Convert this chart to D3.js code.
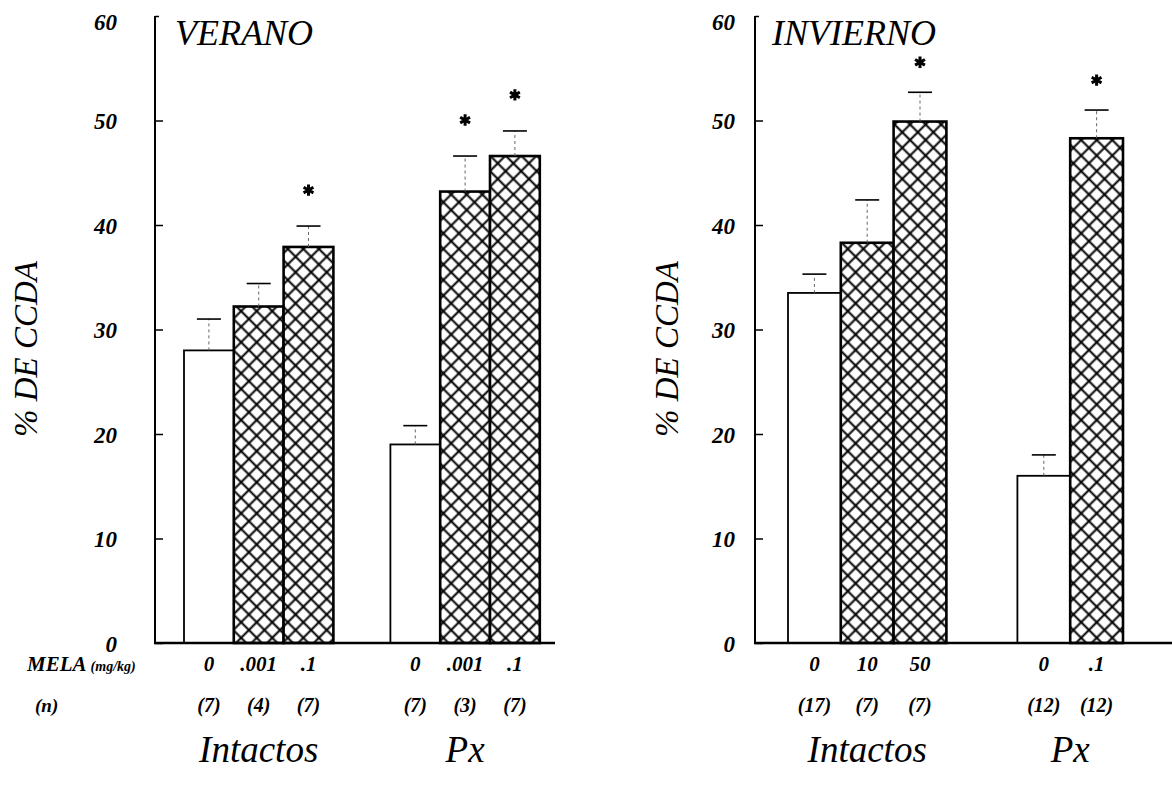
<!DOCTYPE html>
<html>
<head>
<meta charset="utf-8">
<script src="https://cdn.jsdelivr.net/npm/d3@7"></script>
<style>
  body { margin: 0; background: #fff; }
  svg text { font-family: "Liberation Serif", "Times New Roman", Tinos, "Noto Serif", "DejaVu Serif", serif; font-style: italic; fill: #000; }
</style>
</head>
<body>
<script>
"use strict";

// y axis ticks, shared by both panels
var yTicks = [0, 10, 20, 30, 40, 50, 60];

// VERANO (summer)
var veranoGroups = ["Intactos", "Px"];
var veranoDoses = [["0", ".001", ".1"], ["0", ".001", ".1"]];
var veranoN = [["(7)", "(4)", "(7)"], ["(7)", "(3)", "(7)"]];
var veranoMeans = [[28.0, 32.2, 37.9], [19.0, 43.2, 46.6]];
var veranoSem = [[3.0, 2.2, 2.0], [1.8, 3.4, 2.4]];
var veranoSig = [[false, false, true], [false, true, true]];

// INVIERNO (winter)
var inviernoGroups = ["Intactos", "Px"];
var inviernoDoses = [["0", "10", "50"], ["0", ".1"]];
var inviernoN = [["(17)", "(7)", "(7)"], ["(12)", "(12)"]];
var inviernoMeans = [[33.5, 38.3, 49.9], [16.0, 48.3]];
var inviernoSem = [[1.8, 4.1, 2.8], [2.0, 2.7]];
var inviernoSig = [[false, false, true], [false, true]];

var width = 1172, height = 793;

var svg = d3.select("body").append("svg")
    .attr("width", width)
    .attr("height", height);

// cross hatch fill
var hs = 11;
var defs = svg.append("defs");
var hatch = defs.append("pattern")
    .attr("id", "hatch")
    .attr("patternUnits", "userSpaceOnUse")
    .attr("width", hs)
    .attr("height", hs)
    .attr("patternTransform", "rotate(45)");
hatch.append("rect").attr("width", hs).attr("height", hs).attr("fill", "#fff");
hatch.append("path")
    .attr("d", "M0," + hs / 2 + "H" + hs + "M" + hs / 2 + ",0V" + hs)
    .attr("stroke", "#000")
    .attr("stroke-width", 2);

var y = d3.scaleLinear().domain([0, 60]).range([643, 16]);
var star = d3.symbol(d3.symbolAsterisk, 90);

function drawPanel(p) {
  var g = svg.append("g");

  // work out where each group of bars starts
  var groupX = [], start = p.firstBar;
  p.doses.forEach(function(d) {
    groupX.push(start);
    start += d.length * p.barW + p.gap;
  });

  var bars = [];
  p.doses.forEach(function(doses, gi) {
    var xb = d3.scaleBand()
        .domain(d3.range(doses.length))
        .range([groupX[gi], groupX[gi] + doses.length * p.barW]);
    doses.forEach(function(dose, di) {
      bars.push({
        x: xb(di), w: xb.bandwidth(), dose: dose, n: p.n[gi][di],
        value: p.means[gi][di], sem: p.sem[gi][di], sig: p.sig[gi][di],
        hatched: di > 0
      });
    });
  });

  // Y axis
  var axis = g.append("g")
      .attr("transform", "translate(" + p.axisX + ",0)")
      .call(d3.axisLeft(y).tickValues(yTicks).tickSize(-8).tickPadding(p.labelPad));
  axis.attr("font-family", null);
  axis.select(".domain").remove();
  axis.selectAll(".tick line").attr("stroke", "#000").attr("stroke-width", 1.5)
      .attr("x2", function(d) { return d === 60 ? 4 : 8; });
  axis.selectAll(".tick text")
      .attr("font-weight", "bold")
      .attr("font-size", 23)
      .attr("dy", function(d) { return d === 60 ? "0.6em" : "0.35em"; });
  g.append("line")
      .attr("x1", p.axisX).attr("x2", p.axisX)
      .attr("y1", y(0)).attr("y2", y(60))
      .attr("stroke", "#000").attr("stroke-width", 2);

  // bars
  g.selectAll(".bar").data(bars).enter().append("rect")
      .attr("class", "bar")
      .attr("x", function(d) { return d.x; })
      .attr("y", function(d) { return y(d.value); })
      .attr("width", function(d) { return d.w; })
      .attr("height", function(d) { return y(0) - y(d.value); })
      .attr("fill", function(d) { return d.hatched ? "url(#hatch)" : "#fff"; })
      .attr("stroke", "#000")
      .attr("stroke-width", function(d) { return d.hatched ? 2.6 : 1.8; });

  // error bars: dotted stem + solid cap
  g.selectAll(".stem").data(bars).enter().append("line")
      .attr("x1", function(d) { return d.x + d.w / 2; })
      .attr("x2", function(d) { return d.x + d.w / 2; })
      .attr("y1", function(d) { return y(d.value); })
      .attr("y2", function(d) { return y(d.value + d.sem); })
      .attr("stroke", "#666").attr("stroke-width", 1)
      .attr("stroke-dasharray", "3,3");
  g.selectAll(".cap").data(bars).enter().append("line")
      .attr("x1", function(d) { return d.x + d.w / 2 - 12; })
      .attr("x2", function(d) { return d.x + d.w / 2 + 12; })
      .attr("y1", function(d) { return y(d.value + d.sem); })
      .attr("y2", function(d) { return y(d.value + d.sem); })
      .attr("stroke", "#000").attr("stroke-width", 1.6);

  // significance stars
  g.selectAll(".star").data(bars.filter(function(d) { return d.sig; })).enter().append("path")
      .attr("transform", function(d) {
        return "translate(" + (d.x + d.w / 2) + "," + (y(d.value + d.sem) - p.starGap) + ")";
      })
      .attr("d", star)
      .attr("fill", "none")
      .attr("stroke", "#000")
      .attr("stroke-width", 3);

  // baseline
  g.append("line")
      .attr("x1", p.axisX - 1).attr("x2", p.baseEnd)
      .attr("y1", y(0)).attr("y2", y(0))
      .attr("stroke", "#000").attr("stroke-width", 2.5);

  // title
  g.append("text")
      .attr("x", p.axisX + p.titleDx).attr("y", 45)
      .attr("font-size", 36)
      .text(p.title);

  // y label
  g.append("text")
      .attr("transform", "translate(" + p.yLabelX + ",349) rotate(-90)")
      .attr("text-anchor", "middle")
      .attr("font-size", 33)
      .text("% DE CCDA");

  // dose and n rows
  g.selectAll(".dose").data(bars).enter().append("text")
      .attr("x", function(d) { return d.x + d.w / 2; })
      .attr("y", 671)
      .attr("text-anchor", "middle")
      .attr("font-weight", "bold")
      .attr("font-size", 21)
      .text(function(d) { return d.dose; });
  g.selectAll(".nlab").data(bars).enter().append("text")
      .attr("x", function(d) { return d.x + d.w / 2; })
      .attr("y", 712)
      .attr("text-anchor", "middle")
      .attr("font-weight", "bold")
      .attr("font-size", 20)
      .text(function(d) { return d.n; });

  // group names
  p.groups.forEach(function(name, gi) {
    g.append("text")
        .attr("x", groupX[gi] + p.doses[gi].length * p.barW / 2)
        .attr("y", 762)
        .attr("text-anchor", "middle")
        .attr("font-size", 37)
        .text(name);
  });
}

drawPanel({
  title: "VERANO", axisX: 155, titleDx: 20, labelPad: 38, yLabelX: 37, starGap: 36,
  firstBar: 184, barW: 49.8, gap: 57, baseEnd: 555,
  groups: veranoGroups, doses: veranoDoses, n: veranoN,
  means: veranoMeans, sem: veranoSem, sig: veranoSig
});

drawPanel({
  title: "INVIERNO", axisX: 755, titleDx: 17, labelPad: 20, yLabelX: 678, starGap: 30,
  firstBar: 788, barW: 52.8, gap: 71, baseEnd: 1172,
  groups: inviernoGroups, doses: inviernoDoses, n: inviernoN,
  means: inviernoMeans, sem: inviernoSem, sig: inviernoSig
});

// row captions of the left panel
var cap = svg.append("g");
var mela = cap.append("text").attr("x", 27).attr("y", 671).attr("font-weight", "bold");
mela.append("tspan").attr("font-size", 21).text("MELA ");
mela.append("tspan").attr("font-size", 14).text("(mg/kg)");
cap.append("text").attr("x", 35).attr("y", 712)
    .attr("font-weight", "bold").attr("font-size", 19).text("(n)");
</script>
</body>
</html>
